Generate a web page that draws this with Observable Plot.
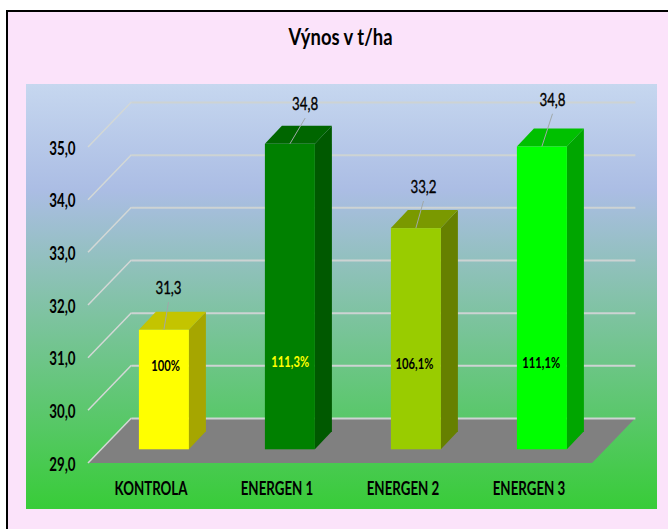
<!DOCTYPE html>
<html lang="sk">
<head>
<meta charset="utf-8">
<script src="https://cdn.jsdelivr.net/npm/d3@7"></script>
<script src="https://cdn.jsdelivr.net/npm/@observablehq/plot@0.6"></script>
<style>
  html, body { margin: 0; padding: 0; background: #fff; width: 668px; height: 529px; overflow: hidden; }
  #frame { position: absolute; left: 6px; top: 10px; width: 662px; height: 519px; box-sizing: border-box;
           border-left: 2px solid #000; border-top: 2px solid #000; background: #fbe3fa; }
  #panel { position: absolute; left: 26px; top: 84px; width: 631px; height: 425px;
           background: linear-gradient(180deg, #c6d7ef 0%, #abbde4 25%, #38cc38 100%); }
  #chart { position: absolute; left: 0; top: 0; }
  svg text { font-family: Lato, sans-serif; }
</style>
</head>
<body>
<div id="frame"></div>
<div id="panel"></div>
<div id="chart"></div>
<script>
const titleText = "Výnos v t/ha";
const categories = ["KONTROLA", "ENERGEN 1", "ENERGEN 2", "ENERGEN 3"];
const values = [31.27, 34.8, 33.2, 34.75];
const valueLabels = ["31,3", "34,8", "33,2", "34,8"];
const percentLabels = ["100%", "111,3%", "106,1%", "111,1%"];
const yTicks = [29, 30, 31, 32, 33, 34, 35];

const frontColors = ["#ffff00", "#008000", "#99cc00", "#00ff00"];
const topColors = ["#c4c400", "#006600", "#7a9900", "#00c000"];
const sideColors = ["#a6a600", "#005900", "#668000", "#00a600"];
const percentColors = ["#000000", "#ffff00", "#000000", "#000000"];

// Layout of the oblique projection, in pixels
const wall = [43.4, -45];
const barShift = [12.9, -13.7];
const barDepth = [17, -18];
const valueOffsets = [[17, -55.4], [27.7, -53.5], [20, -54.8], [23, -60.4]];
const percentOffsets = [[14, -97.3], [12.7, -101.3], [11, -99.3], [11.7, -100.3]];
// Horizontal squeeze by font size: the original face is a condensed one
const squeeze = {23: 0.8, 18: 0.74, 16: 0.7};

const rows = categories.map((category, i) => ({
  category, value: values[i], label: valueLabels[i], percent: percentLabels[i],
  front: frontColors[i], top: topColors[i], side: sideColors[i], percentColor: percentColors[i], i
}));
const base = yTicks[0];

function shape(d, fill, stroke, width) {
  const p = document.createElementNS("http://www.w3.org/2000/svg", "path");
  p.setAttribute("d", d);
  p.setAttribute("fill", fill);
  if (stroke) { p.setAttribute("stroke", stroke); p.setAttribute("stroke-width", width); }
  return p;
}
const group = () => document.createElementNS("http://www.w3.org/2000/svg", "g");
const poly = pts => "M" + pts.map(p => p.join(",")).join("L") + "Z";

// Floor of the 3D box and diagonal edges of the gridlines
const floorMark = (index, {y}, values, {width, marginLeft, marginRight}) => {
  const g = group();
  const x0 = marginLeft, x1 = width - marginRight, y0 = y(base);
  g.appendChild(shape(poly([[x0, y0], [x0 + wall[0], y0 + wall[1]], [x1 + wall[0], y0 + wall[1]], [x1, y0]]), "#808080"));
  return g;
};
const diagonalMark = (index, {y}, values, {marginLeft}) => {
  const g = group();
  for (const t of yTicks) {
    g.appendChild(shape(`M${marginLeft},${y(t)}L${marginLeft + wall[0]},${y(t) + wall[1]}`, "none", "#d3d8d6", 1.5));
  }
  return g;
};
// Side and top faces of each bar
const facesMark = (index, {x, y}) => {
  const g = group();
  const w = x.bandwidth();
  for (const r of rows) {
    const l = x(r.category) + barShift[0], rt = l + w;
    const t = y(r.value) + barShift[1], b = y(base) + barShift[1];
    g.appendChild(shape(poly([[rt, t], [rt + barDepth[0], t + barDepth[1]], [rt + barDepth[0], b + barDepth[1]], [rt, b]]), r.side));
    g.appendChild(shape(poly([[l, t], [l + barDepth[0], t + barDepth[1]], [rt + barDepth[0], t + barDepth[1]], [rt, t]]), r.top));
  }
  return g;
};
// Leader lines from the bar tops to the value labels
const leaderMark = (index, {x, y}) => {
  const g = group();
  const w = x.bandwidth();
  for (const r of rows) {
    const cx = x(r.category) + w / 2;
    const o = valueOffsets[r.i];
    g.appendChild(shape(`M${cx + barShift[0]},${y(r.value) + barShift[1]}L${cx + o[0] + 0.5},${y(r.value) + o[1] + 14}`, "none", "#a0a8a8", 1));
  }
  return g;
};

const chart = Plot.plot({
  width: 668,
  height: 529,
  marginLeft: 88,
  marginRight: 76,
  marginTop: 147,
  marginBottom: 66,
  style: {background: "transparent", overflow: "visible"},
  color: {type: "identity"},
  x: {domain: categories, paddingInner: 0.6, paddingOuter: 0.3, label: null},
  y: {domain: [29, 35], label: null},
  marks: [
    floorMark,
    Plot.ruleY(yTicks, {dx: wall[0], dy: wall[1], stroke: "#cdd3d3", strokeWidth: 2}),
    diagonalMark,
    facesMark,
    Plot.barY(rows, {x: "category", y1: () => base, y2: "value", fill: "front", dx: barShift[0], dy: barShift[1]}),
    leaderMark,
    Plot.axisY({ticks: yTicks, tickSize: 0, tickPadding: 13, dy: 1.5, tickFormat: d => d3.format(".1f")(d).replace(".", ","),
      fontSize: 18, fontWeight: 700, fill: "#000", label: null}),
    Plot.axisX({tickSize: 0, tickPadding: 19, dx: -0.5, fontSize: 18, fontWeight: 700, fill: "#000", label: null}),
    ...rows.map(r => Plot.text([r], {x: "category", y: "value", text: "label",
      dx: valueOffsets[r.i][0], dy: valueOffsets[r.i][1], fontSize: 18, fill: "#000", stroke: "#000", strokeWidth: 0.35})),
    ...rows.map(r => Plot.text([r], {x: "category", y: () => base, text: "percent",
      dx: percentOffsets[r.i][0], dy: percentOffsets[r.i][1], fontSize: 16, fontWeight: 700, fill: r.percentColor})),
    Plot.text([titleText], {frameAnchor: "top", lineAnchor: "middle", dy: -110, fontSize: 23, fontWeight: 700, fill: "#000"})
  ]
});
document.getElementById("chart").appendChild(chart);
chart.querySelectorAll("text").forEach(t => {
  const size = parseFloat(getComputedStyle(t).fontSize);
  const k = squeeze[size];
  if (k) {
    t.setAttribute("textLength", (t.getComputedTextLength() * k).toFixed(1));
    t.setAttribute("lengthAdjust", "spacingAndGlyphs");
  }
});
</script>
</body>
</html>
